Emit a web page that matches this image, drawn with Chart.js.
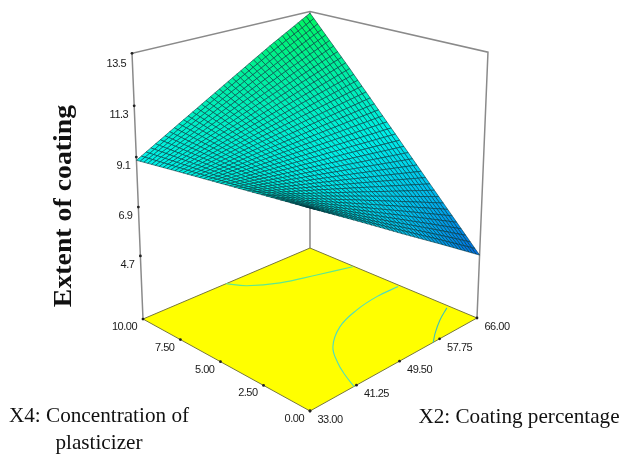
<!DOCTYPE html>
<html>
<head>
<meta charset="utf-8">
<title>Extent of coating</title>
<style>
  html, body { margin: 0; padding: 0; background: #fff; }
  canvas { display: block; filter: blur(0.35px); }
</style>
<script src="https://cdn.jsdelivr.net/npm/chart.js@4"></script>
</head>
<body>
<canvas id="chart" width="622" height="458"></canvas>
<script>
// Values
const x2Ticks = [33, 41.25, 49.5, 57.75, 66];
const x4Ticks = [0, 2.5, 5, 7.5, 10];
const zTicks = [4.7, 6.9, 9.1, 11.3, 13.5];

// Response height at each x2 tick (columns) for each x4 tick (rows)
const zRowX4_0 = [9.81, 8.54, 7.25, 5.98, 4.69];
const zRowX4_25 = [9.60, 8.92, 8.25, 7.57, 6.89];
const zRowX4_5 = [9.39, 9.31, 9.24, 9.17, 9.10];
const zRowX4_75 = [9.18, 9.71, 10.24, 10.77, 11.30];
const zRowX4_10 = [8.96, 10.10, 11.24, 12.37, 13.43];
const zRows = [zRowX4_0, zRowX4_25, zRowX4_5, zRowX4_75, zRowX4_10];

// Contour lines on the floor
const contourHighX2 = [48.4, 50.1, 54.2, 59.9, 65.8];
const contourHighX4 = [10, 9.19, 8.33, 7.72, 7.13];
const contourMidX2 = [65.6, 61, 55.9, 50.7, 46.1, 43.5, 42, 40.8];
const contourMidX4 = [4.3, 4.33, 4.11, 3.6, 2.66, 1.63, 0.81, 0];
const contourLowX2 = [65.4, 61.9, 58.6, 56.4];
const contourLowX4 = [1.48, 1, 0.44, 0];

const zFloor = 1.78;
const zTop = 13.5;
const meshPerTick = 10; // mesh lines drawn per tick interval

// Low to high heights of the surface colours
const colourZ = [4.69, 7, 9, 11, 13.4];
const colourR = [0, 0, 0, 0, 0];
const colourG = [105, 190, 240, 238, 245];
const colourB = [225, 238, 232, 170, 95];

// Perspective view of the box
function project(x2, x4, z) {
    const u = (x2 - 33) / 33;
    const v = x4 / 10;
    const t = (z - zFloor) / (zTop - zFloor);
    const w = 1 + 0.156 * u + 0.156 * v - 0.0713 * t;
    return {
        x: (310 + 241.4 * u - 144.7 * v - 22.1 * t) / w,
        y: (411 - 43.4 * u - 42.2 * v - 311 * t) / w
    };
}

function surfaceColour(z) {
    let i = 0;
    while (i < colourZ.length - 2 && z > colourZ[i + 1]) i++;
    const f = Math.min(1, Math.max(0, (z - colourZ[i]) / (colourZ[i + 1] - colourZ[i])));
    const mix = arr => Math.round(arr[i] + (arr[i + 1] - arr[i]) * f);
    return `rgb(${mix(colourR)}, ${mix(colourG)}, ${mix(colourB)})`;
}

// Point on the patch between the read table values, for the drawn mesh
function meshPoint(i, j) {
    const a = Math.min(Math.floor(i / meshPerTick), x2Ticks.length - 2);
    const b = Math.min(Math.floor(j / meshPerTick), x4Ticks.length - 2);
    const f = i / meshPerTick - a;
    const g = j / meshPerTick - b;
    const z = (1 - g) * ((1 - f) * zRows[b][a] + f * zRows[b][a + 1]) +
              g * ((1 - f) * zRows[b + 1][a] + f * zRows[b + 1][a + 1]);
    return {
        x2: x2Ticks[a] + f * (x2Ticks[a + 1] - x2Ticks[a]),
        x4: x4Ticks[b] + g * (x4Ticks[b + 1] - x4Ticks[b]),
        z: z
    };
}

function lineDataset(points, color, width, extra) {
    return Object.assign({
        type: 'line',
        data: points.map(p => project(p[0], p[1], p[2])),
        borderColor: color,
        borderWidth: width,
        pointRadius: 0,
        fill: false,
        tension: 0
    }, extra || {});
}

function contourDataset(xs, ys, color) {
    const points = xs.map((x, k) => [x, ys[k], zFloor]);
    return lineDataset(points, color, 1.1, { tension: 0.4 });
}

// Paint order: box, floor, contours, surface from back to front, ticks
const painted = [];
const boxGrey = '#8a8a8a';
painted.push(lineDataset([[33, 10, zFloor], [33, 10, zTop], [66, 10, zTop], [66, 0, zTop], [66, 0, zFloor]], boxGrey, 1.5));
painted.push(lineDataset([[66, 10, zFloor], [66, 10, zTop]], boxGrey, 1.5));
painted.push(lineDataset(
    [[33, 0, zFloor], [66, 0, zFloor], [66, 10, zFloor], [33, 10, zFloor], [33, 0, zFloor]],
    '#77773c', 1, { fill: 'shape', backgroundColor: '#ffff00' }
));
painted.push(contourDataset(contourHighX2, contourHighX4, '#5fe88f'));
painted.push(contourDataset(contourMidX2, contourMidX4, '#4fdcc0'));
painted.push(contourDataset(contourLowX2, contourLowX4, '#3fc0b8'));

const meshCount = (x2Ticks.length - 1) * meshPerTick;
for (let sum = 2 * meshCount - 2; sum >= 0; sum--) {
    for (let i = Math.max(0, sum - meshCount + 1); i <= Math.min(sum, meshCount - 1); i++) {
        const j = sum - i;
        const corners = [meshPoint(i, j), meshPoint(i + 1, j), meshPoint(i + 1, j + 1), meshPoint(i, j + 1), meshPoint(i, j)];
        const midZ = (corners[0].z + corners[1].z + corners[2].z + corners[3].z) / 4;
        painted.push(lineDataset(
            corners.map(c => [c.x2, c.x4, c.z]),
            'rgba(0, 50, 60, 0.72)', 0.8,
            { fill: 'shape', backgroundColor: surfaceColour(midZ) }
        ));
    }
}

const tickPoints = [];
zTicks.forEach(z => tickPoints.push(project(33, 10, z)));
x4Ticks.forEach(x4 => tickPoints.push(project(33, x4, zFloor)));
x2Ticks.forEach(x2 => tickPoints.push(project(x2, 0, zFloor)));
painted.push({
    type: 'scatter',
    data: tickPoints,
    pointRadius: 1.4,
    pointBackgroundColor: '#222',
    pointBorderWidth: 0,
    showLine: false
});

// Chart.js paints the highest dataset index first
const datasets = painted.reverse();

// Tick labels and axis titles
const textPlugin = {
    id: 'boxText',
    afterDatasetsDraw(chart) {
        const ctx = chart.ctx;
        const sx = chart.scales.x;
        const sy = chart.scales.y;
        const px = p => sx.getPixelForValue(p.x);
        const py = p => sy.getPixelForValue(p.y);

        ctx.save();
        ctx.fillStyle = '#1a1a1a';
        ctx.textBaseline = 'middle';
        ctx.font = '11px "Liberation Sans"';
        ctx.letterSpacing = '-0.5px';

        ctx.textAlign = 'right';
        zTicks.forEach(z => {
            const p = project(33, 10, z);
            // top label sits a little lower in the reference
            ctx.fillText(z.toFixed(1), px(p) - 6, py(p) + (z === 13.5 ? 11 : 9));
        });
        x4Ticks.forEach(x4 => {
            const p = project(33, x4, zFloor);
            ctx.fillText(x4.toFixed(2), px(p) - 6, py(p) + 8);
        });
        ctx.textAlign = 'left';
        x2Ticks.forEach(x2 => {
            const p = project(x2, 0, zFloor);
            ctx.fillText(x2.toFixed(2), px(p) + 7.5, py(p) + 9);
        });

        ctx.letterSpacing = '0px';
        ctx.fillStyle = '#111';
        ctx.font = '21.2px "Liberation Serif"';
        ctx.textAlign = 'center';
        ctx.fillText('X4: Concentration of', 99, 416);
        ctx.fillText('plasticizer', 99, 443);
        ctx.fillText('X2: Coating percentage', 519, 417);

        ctx.translate(64.5, 206);
        ctx.rotate(-Math.PI / 2);
        ctx.scale(1.09, 1);
        ctx.font = 'bold 25.5px "Liberation Serif"';
        ctx.fillText('Extent of coating', 0, 0);
        ctx.restore();
    }
};

new Chart(document.getElementById('chart'), {
    type: 'scatter',
    data: { datasets: datasets },
    plugins: [textPlugin],
    options: {
        responsive: false,
        animation: false,
        events: [],
        layout: { padding: 0, autoPadding: false },
        plugins: {
            legend: { display: false },
            title: { display: false },
            tooltip: { enabled: false }
        },
        scales: {
            x: { type: 'linear', display: false, min: 0, max: 622 },
            y: { type: 'linear', display: false, min: 0, max: 458, reverse: true }
        }
    }
});
</script>
</body>
</html>
